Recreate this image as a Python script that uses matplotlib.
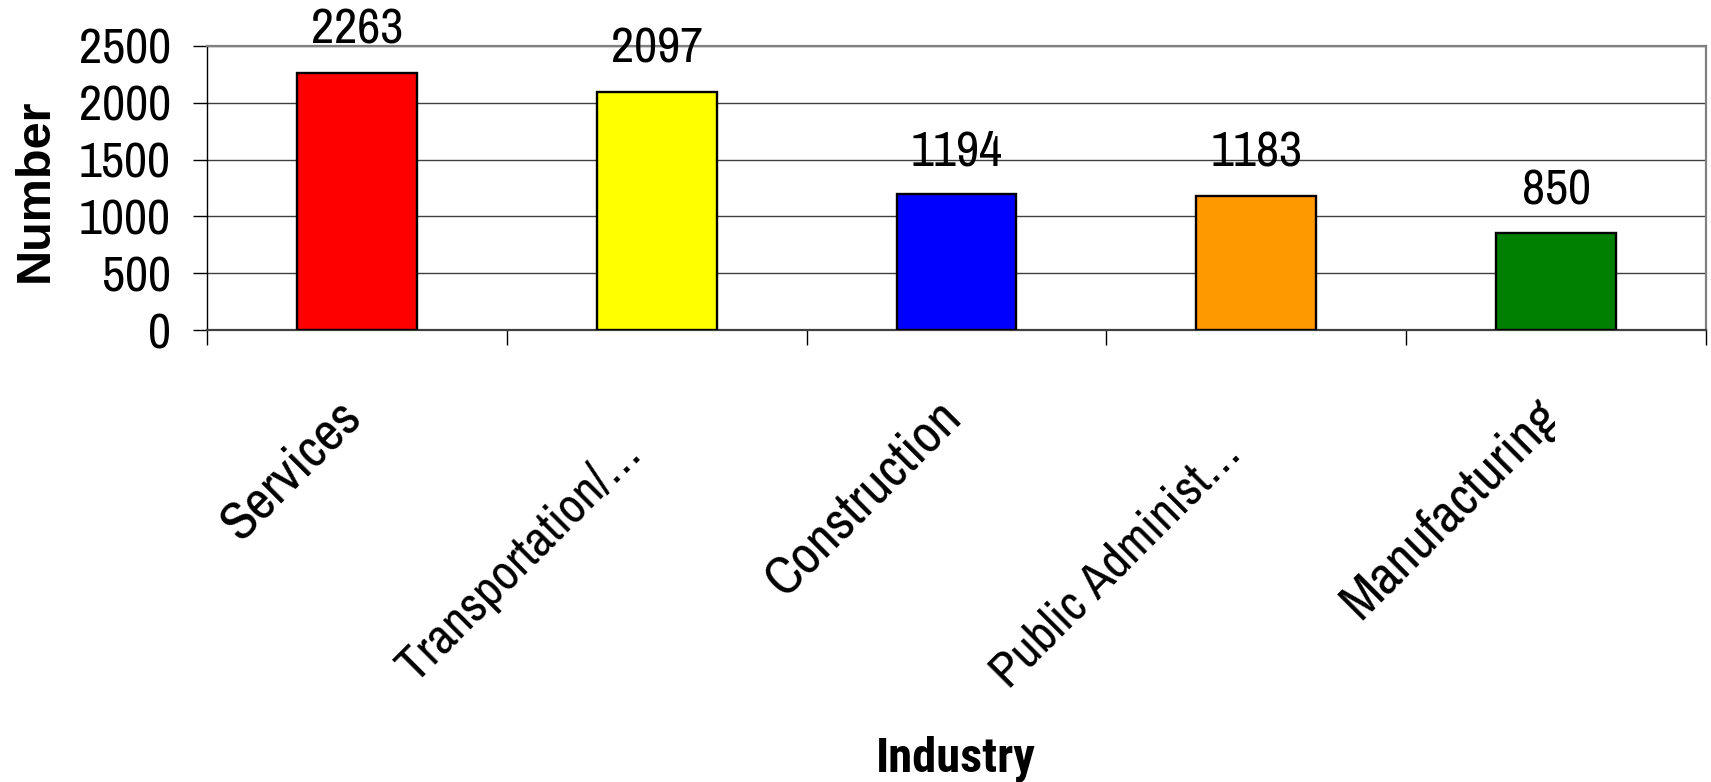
import matplotlib
matplotlib.use("Agg")
import matplotlib.pyplot as plt
from matplotlib import font_manager
from matplotlib.font_manager import FontProperties
from matplotlib.transforms import Bbox, ScaledTranslation
from matplotlib.ticker import FixedLocator, NullFormatter

industries = ["Services", "Transportation/\u2026", "Construction", "Public Administ\u2026", "Manufacturing"]
counts = [2263, 2097, 1194, 1183, 850]
bar_colors = ["#FF0000", "#FFFF00", "#0000FF", "#FF9900", "#008000"]
y_ticks = [0, 500, 1000, 1500, 2000, 2500]

ttf = font_manager.fontManager.ttflist
names = {f.name for f in ttf}


def pick_regular(prefs, fallback):
    for p in prefs:
        if p in names:
            return p
    return fallback


def pick_bold_file(prefs):
    for p in prefs:
        for f in ttf:
            if f.name == p and f.weight in (700, "bold") and f.style == "normal":
                return f.fname
    return None


NARROW = pick_regular(["Liberation Sans Narrow", "Arial Narrow", "Archivo Narrow", "Roboto Condensed"], "Liberation Sans")
bold_file = pick_bold_file(["Roboto Condensed", "Fira Sans Condensed", "Asap Condensed", "Barlow Semi Condensed"])

W, H = 1711, 782
fig = plt.figure(figsize=(W / 100, H / 100), dpi=100)
renderer = fig.canvas.get_renderer()


def fit_size(text, target_px, **kw):
    t = fig.text(0, 0, text, fontsize=100, **kw)
    w = t.get_window_extent(renderer).width
    t.remove()
    return 100 * target_px / w


FS = fit_size("2500", 92, family=NARROW)
if bold_file:
    ind_kw = dict(fontproperties=FontProperties(fname=bold_file))
else:
    ind_kw = dict(family="Liberation Sans", fontweight="bold")
IND_FS = fit_size("Industry", 160, **ind_kw)

L, R, T, B = 207, 1706, 46, 330
ax = fig.add_axes([L / W, 1 - B / H, (R - L) / W, (B - T) / H])

x = list(range(len(industries)))
bars = ax.bar(x, counts, width=0.4, color=bar_colors, edgecolor="black", linewidth=1.7, zorder=3)

ax.set_xlim(-0.5, len(industries) - 0.5)
ax.set_ylim(0, 2500)
ax.set_yticks(y_ticks)
ax.set_yticklabels([str(v) for v in y_ticks], fontsize=FS, family=NARROW)
ax.yaxis.grid(True, color="#404040", linewidth=1.0, zorder=0)
ax.set_axisbelow(True)

ax.xaxis.set_major_locator(FixedLocator([i - 0.5 for i in range(len(industries) + 1)]))
ax.xaxis.set_major_formatter(NullFormatter())
ax.xaxis.set_minor_locator(FixedLocator(x))
ax.set_xticklabels(industries, minor=True, fontsize=FS, family=NARROW,
                   rotation=45, ha="right", va="center", rotation_mode="anchor")
ax.tick_params(axis="x", which="major", length=11, width=1, color="black", direction="out")
ax.tick_params(axis="x", which="minor", length=0, pad=58)
ax.tick_params(axis="y", which="major", length=10, width=1, color="black", pad=16)

for lab in ax.get_xticklabels(minor=True):
    if lab.get_text().endswith("\u2026"):
        dx, dy = -23, -35
    else:
        lab.set_fontsize(FS * 1.08)
        dx, dy = -4, 3
    lab.set_transform(lab.get_transform() + ScaledTranslation(dx / 100, dy / 100, fig.dpi_scale_trans))
    if lab.get_text() == "Manufacturing":
        lab.set_clip_box(Bbox([[0, 0], [1555, H]]))
        lab.set_clip_on(True)

for s in ["top", "right"]:
    ax.spines[s].set_color("#808080")
    ax.spines[s].set_linewidth(1.6)
ax.spines["left"].set_color("black")
ax.spines["left"].set_linewidth(1.0)
ax.spines["bottom"].set_color("#404040")
ax.spines["bottom"].set_linewidth(1.6)

for rect, v in zip(bars, counts):
    ax.annotate(str(v), (rect.get_x() + rect.get_width() / 2, v), xytext=(0, 21),
                textcoords="offset points", ha="center", va="baseline",
                fontsize=FS, family=NARROW, annotation_clip=False)

fig.text(35 / W, 1 - 190 / H, "Number", rotation=90, ha="center", va="center",
         fontsize=35, fontweight="bold", family=["Liberation Sans", "DejaVu Sans"])
fig.text(956 / W, 1 - 771 / H, "Industry", ha="center", va="baseline", fontsize=IND_FS, **ind_kw)

fig.savefig("out.png", dpi=100, facecolor="white")
